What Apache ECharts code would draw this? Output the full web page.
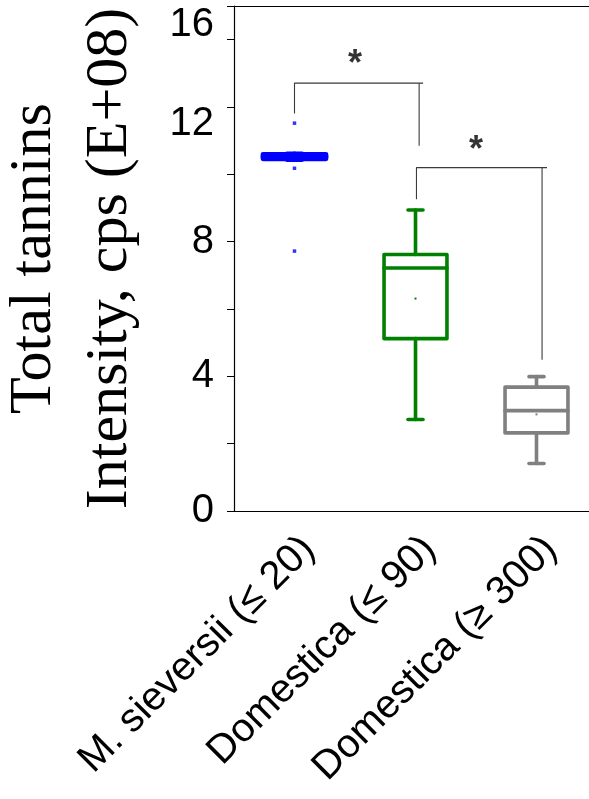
<!DOCTYPE html>
<html>
<head>
<meta charset="utf-8">
<script src="https://cdn.jsdelivr.net/npm/echarts@6/dist/echarts.min.js"></script>
<style>
html,body{margin:0;padding:0;background:#fff;}
#chart{width:589px;height:799px;}
</style>
</head>
<body>
<div id="chart"></div>
<script>
// ---- data ----
var categories = ['M. sieversii (\u2264 20)', 'Domestica (\u2264 90)', 'Domestica (\u2265 300)'];
// [low whisker, Q1, median, Q3, high whisker]
var boxSieversii = [10.44, 10.46, 10.52, 10.59, 10.61];
var boxDomestica90 = [2.72, 5.12, 7.22, 7.62, 8.94];
var boxDomestica300 = [1.41, 2.32, 2.98, 3.68, 3.99];
var means = [10.52, 6.31, 2.87];
var outliersSieversii = [11.52, 10.18, 7.72];
var yTickLabels = ['0', '4', '8', '12', '16'];
var yLabelPositions = [0, 4, 8, 11.5, 14.45];
var colors = ['#0000ff', '#008000', '#808080'];
// significance brackets (x in category index units, y in value units)
var bracket1Left = [[0, 11.81], [0, 12.71], [1.063, 12.71]];
var bracket1Right = [[1.03, 12.71], [1.03, 10.85]];
var bracket2Left = [[1.008, 9.26], [1.008, 10.2], [2.087, 10.2]];
var bracket2Right = [[2.046, 10.2], [2.046, 4.49]];
var stars = [[0.5, 13.52], [1.5, 10.97]];

var boxes = [boxSieversii, boxDomestica90, boxDomestica300];
var boxData = boxes.map(function (b, i) { return [i].concat(b).concat([means[i]]); });
var outlierData = outliersSieversii.map(function (v) { return [0, v]; });

function renderBox(params, api) {
  var i = api.value(0);
  var band = api.size([1, 0])[0];
  var half = band * 0.26;
  var cap = band * 0.062;
  var c = colors[params.dataIndex];
  var lw = params.dataIndex === 0 ? 4.8 : 3.6;
  var pLow = api.coord([i, api.value(1)]);
  var pQ1 = api.coord([i, api.value(2)]);
  var pMed = api.coord([i, api.value(3)]);
  var pQ3 = api.coord([i, api.value(4)]);
  var pHigh = api.coord([i, api.value(5)]);
  var pMean = api.coord([i, api.value(6)]);
  var x = pLow[0];
  var st = { stroke: c, lineWidth: lw, fill: null, lineCap: 'round', lineJoin: 'round' };
  return {
    type: 'group',
    children: [
      { type: 'line', shape: { x1: x, y1: pHigh[1], x2: x, y2: pQ3[1] }, style: st },
      { type: 'line', shape: { x1: x, y1: pLow[1], x2: x, y2: pQ1[1] }, style: st },
      { type: 'line', shape: { x1: x - cap, y1: pHigh[1], x2: x + cap, y2: pHigh[1] }, style: st },
      { type: 'line', shape: { x1: x - cap, y1: pLow[1], x2: x + cap, y2: pLow[1] }, style: st },
      { type: 'rect', shape: { x: x - half, y: pQ3[1], width: half * 2, height: pQ1[1] - pQ3[1] }, style: st },
      { type: 'line', shape: { x1: x - half, y1: pMed[1], x2: x + half, y2: pMed[1] }, style: st },
      { type: 'rect', shape: { x: x - 1, y: pMean[1] - 1, width: 2, height: 2 }, style: { fill: c } }
    ]
  };
}

var bracketStyle = { color: '#3a3a3a', width: 1.1 };
function bracketSeries(d) {
  return { type: 'line', xAxisIndex: 2, yAxisIndex: 0, data: d, symbol: 'none', lineStyle: bracketStyle, silent: true, z: 1 };
}

var chart = echarts.init(document.getElementById('chart'), null, { renderer: 'canvas' });
chart.setOption({
  animation: false,
  backgroundColor: '#fff',
  grid: { left: 234, top: 6, bottom: 288, right: -8, containLabel: false, outerBoundsMode: 'none' },
  xAxis: [
    {
      type: 'category', data: categories, position: 'bottom', boundaryGap: true,
      axisLine: { onZero: false, lineStyle: { color: '#000', width: 1.2 } },
      axisTick: { alignWithLabel: true, length: 7, lineStyle: { color: '#000' } },
      axisLabel: { rotate: 45, color: '#000', fontFamily: 'Liberation Sans', fontSize: 40, margin: 18, interval: 0, verticalAlign: 'top' }
    },
    {
      type: 'category', data: categories, position: 'top', boundaryGap: true,
      axisLine: { onZero: false, lineStyle: { color: '#000', width: 1.2 } },
      axisTick: { alignWithLabel: true, inside: true, length: 3, lineStyle: { color: '#000' } },
      axisLabel: { show: false }
    },
    { type: 'value', min: -0.5, max: 2.5, show: false }
  ],
  yAxis: [{
    type: 'value', min: 0, max: 15, interval: 2,
    axisLine: { show: true, onZero: false, lineStyle: { color: '#000', width: 1.2 } },
    axisTick: { show: true, length: 7, lineStyle: { color: '#000' } },
    splitLine: { show: false },
    axisLabel: {
      customValues: yLabelPositions,
      formatter: function (v) { return yTickLabels[yLabelPositions.indexOf(v)]; },
      color: '#000', fontFamily: 'Liberation Sans', fontSize: 40, margin: 20
    },
    name: 'Total tannins\nIntensity, cps (E+08)',
    nameLocation: 'middle', nameRotate: 90, nameGap: 86, nameMoveOverlap: false,
    nameTextStyle: { fontFamily: 'Liberation Serif', fontSize: 60, lineHeight: 76, color: '#000' }
  }],
  series: [
    { type: 'custom', renderItem: renderBox, data: boxData, xAxisIndex: 0, yAxisIndex: 0, encode: { x: 0, y: [1, 2, 3, 4, 5, 6] }, z: 3 },
    { type: 'scatter', data: outlierData, symbol: 'rect', symbolSize: 3.5, itemStyle: { color: '#0000ff' }, z: 4 },
    bracketSeries(bracket1Left), bracketSeries(bracket1Right), bracketSeries(bracket2Left), bracketSeries(bracket2Right),
    { type: 'scatter', xAxisIndex: 2, data: stars, symbolSize: 0,
      label: { show: true, formatter: '*', position: 'inside', color: '#000', fontFamily: 'Liberation Sans', fontSize: 36, fontWeight: 'bold', offset: [0, 9] } }
  ]
});
</script>
</body>
</html>
